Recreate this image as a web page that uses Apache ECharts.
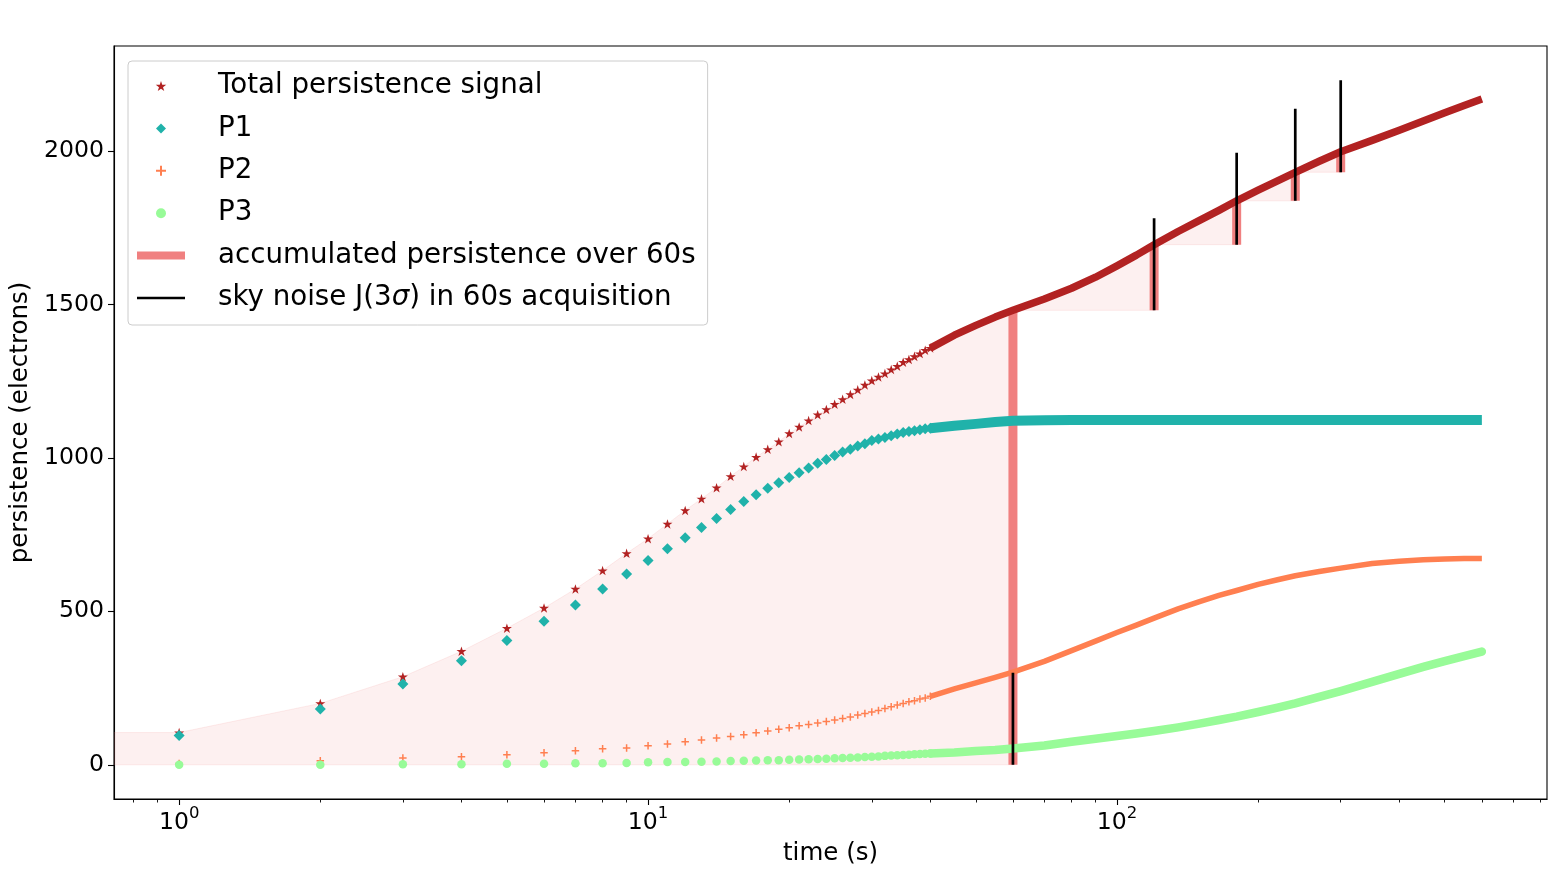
<!DOCTYPE html>
<html><head><meta charset="utf-8">
<script src="https://cdn.jsdelivr.net/npm/echarts@6/dist/echarts.min.js"></script>
<style>html,body{margin:0;padding:0;background:#fff}#c{width:1563px;height:882px}</style>
</head><body><div id="c"></div>
<script>
// ---------------- data ----------------
const times = [1,2,3,4,5,6,7,8,9,10,11,12,13,14,15,16,17,18,19,20,
  21,22,23,24,25,26,27,28,29,30,31,32,33,34,35,36,37,38,39,40,
  45,50,55,60,70,80,90,100,110,120,135,150,165,180,200,220,240,270,300,350,400,450,500,550,600];
const totalSignal = [105,200,287,370,445,511,573,633,689,737,785,829,867,903,940,972,1003,1028,1053,1080,
  1101,1122,1141,1158,1175,1191,1207,1222,1238,1252,1264,1275,1288,1299,1312,1321,1331,1340,1351,1358,
  1400,1432,1459,1481,1518,1553,1589,1626,1661,1695,1738,1774,1807,1838,1873,1903,1931,1967,1998,2035,2068,2098,2125,2149,2170];
const p1 = [95,182,263,339,405,468,521,573,622,666,704,740,773,803,832,858,880,901,919,936,
  952,967,983,995,1008,1019,1028,1039,1046,1057,1062,1067,1072,1078,1083,1086,1089,1092,1095,1097,
  1105,1111,1117,1121,1123,1124,1124,1124,1124,1124,1124,1124,1124,1124,1124,1124,1124,1124,1124,1124,1124,1124,1124,1124,1124];
const p2 = [4,13,22,26,33,39,46,52,55,62,68,75,81,87,92,98,104,110,116,121,
  127,131,136,141,146,151,156,162,167,172,177,183,189,195,200,205,209,214,218,223,
  247,267,285,302,337,372,403,431,455,478,508,532,552,568,588,603,616,630,641,656,663,668,671,672,672];
const p3 = [0,0,2,2,3,3,5,5,6,8,9,9,10,11,12,13,14,15,15,16,
  17,18,19,20,21,22,23,24,25,26,27,29,30,31,32,33,34,35,36,37,
  40,45,48,53,63,75,85,94,102,110,122,134,146,157,172,186,200,221,240,270,296,319,338,354,369];
const stepTimes = [60,120,180,240,300];
const skyNoise3Sigma = [300,300,300,300,300];
const xMajorTicks = [1,10,100];
const yTickValues = [0,500,1000,1500,2000];
const bandStart = 40; // markers merge into a continuous band beyond this time

const names = {
  total:'Total persistence signal', p1:'P1', p2:'P2', p3:'P3',
  acc:'accumulated persistence over 60s', sky:'sky noise J(3σ) in 60s acquisition'
};
const colors = {total:'#b22222', p1:'#20b2aa', p2:'#ff7f50', p3:'#98fb98', acc:'#f08080', sky:'#000000'};
const FONT = 'DejaVu Sans';
const FS = 23.6;      // tick labels
const FS_NAME = 24.5; // axis titles
const FS_LEG = 27.7;  // legend

// ---------------- helpers ----------------
const lx = times.map(t => Math.log10(t));
const totalAt = t => totalSignal[times.indexOf(t)];
const xLo = lx[0], xHi = lx[lx.length-1], xPad = 0.05*(xHi-xLo);
const xMin = xLo - xPad, xMax = xHi + xPad;
const bases = stepTimes.map((t,k) => k===0 ? 0 : totalAt(stepTimes[k-1]));
const noiseTops = bases.map((b,k) => b + skyNoise3Sigma[k]);
const allY = [].concat(totalSignal, p1, p2, p3, noiseTops, [0]);
const yLo = Math.min(...allY), yHi = Math.max(...allY), yPad = 0.05*(yHi-yLo);
const yMin = yLo - yPad, yMax = yHi + yPad;

const minorTicks = [];
for (let d=-1; d<=3; d++) for (let k=2;k<=9;k++){ const v=Math.log10(k*Math.pow(10,d)); if(v>xMin && v<xMax) minorTicks.push(v); }
const majorTicks = xMajorTicks.map(t=>Math.log10(t));

function starPath(){
  const pts=[];
  for(let i=0;i<10;i++){ const r=i%2===0?50:19.1; const a=-Math.PI/2+i*Math.PI/5;
    pts.push((50+r*Math.cos(a)).toFixed(2)+','+(50+r*Math.sin(a)).toFixed(2)); }
  return 'path://M'+pts.join(' L')+' Z';
}
const STAR = starPath();
const PLUS = 'path://M4,0 L6,0 L6,4 L10,4 L10,6 L6,6 L6,10 L4,10 L4,6 L0,6 L0,4 L4,4 Z';
const DIAMOND = 'path://M5,0 L10,5 L5,10 L0,5 Z';
const BAR_ICON = 'path://M0,0 L48,0 L48,8 L0,8 Z';
const LINE_ICON = 'path://M0,0 L48,0 L48,2.7 L0,2.7 Z';

const pts = vals => times.map((t,i)=>[lx[i], vals[i]]);
const sparse = vals => pts(vals).filter((p,i)=>times[i]<=bandStart);
const dense = vals => pts(vals).filter((p,i)=>times[i]>=bandStart);

const barData = [], noiseData = [];
stepTimes.forEach((t,k)=>{
  const x = Math.log10(t);
  barData.push([x,bases[k]],[x,totalAt(t)],[x,'-']);
  noiseData.push([x,bases[k]],[x,noiseTops[k]],[x,'-']);
});

function scatter(name, vals, symbol, size, color){
  return {type:'scatter', name, data:sparse(vals), symbol, symbolSize:size, symbolKeepAspect:true,
    itemStyle:{color, opacity:1}, z:4, silent:true};
}
function band(key, vals, width, cap){
  return {type:'line', name:'_band_'+key, data:dense(vals), symbol:'none', showSymbol:false,
    lineStyle:{color:colors[key], width, cap:cap||'butt', join:'round'}, z:3, silent:true};
}

const chart = echarts.init(document.getElementById('c'), null, {renderer:'canvas'});
chart.setOption({
  animation:false,
  backgroundColor:'#fff',
  grid:{left:114, top:46, right:16, bottom:83, show:true, borderColor:'#000', borderWidth:1.1,
        backgroundColor:'transparent', containLabel:false, outerBoundsMode:'none'},
  legend:{
    orient:'vertical', left:128, top:61, padding:[11,12,13,9], itemGap:14.4, itemWidth:48, itemHeight:10,
    symbolKeepAspect:true, selectedMode:false,
    backgroundColor:'rgba(255,255,255,0.8)', borderColor:'#cccccc', borderWidth:1, borderRadius:4,
    textStyle:{fontFamily:FONT, fontSize:FS_LEG, color:'#000', lineHeight:27.2, padding:[0,0,0,28],
      rich:{i:{fontFamily:FONT, fontSize:FS_LEG, fontStyle:'italic', color:'#000', lineHeight:27.2}}},
    formatter: n => n===names.sky ? 'sky noise J(3{i|σ}) in 60s acquisition' : n,
    data:[
      {name:names.total, icon:STAR},
      {name:names.p1, icon:DIAMOND},
      {name:names.p2, icon:PLUS},
      {name:names.p3, icon:'circle'},
      {name:names.acc, icon:BAR_ICON, itemStyle:{color:colors.acc}},
      {name:names.sky, icon:LINE_ICON, itemStyle:{color:colors.sky}}
    ]
  },
  xAxis:[{
    type:'value', min:xMin, max:xMax, gridIndex:0, position:'bottom',
    name:'time (s)', nameLocation:'middle', nameGap:42,
    nameTextStyle:{fontFamily:FONT, fontSize:FS_NAME, color:'#000'},
    axisLine:{show:true, onZero:false, lineStyle:{color:'#000', width:1.1}},
    axisTick:{show:true, customValues:majorTicks, length:6, lineStyle:{color:'#000', width:1.1}},
    axisLabel:{show:true, customValues:majorTicks, margin:6,
      formatter: v => '{b|10}{s|'+Math.round(v)+'}',
      rich:{b:{fontFamily:FONT, fontSize:FS, color:'#000', lineHeight:30, verticalAlign:'bottom'},
            s:{fontFamily:FONT, fontSize:16.5, color:'#000', lineHeight:16.5, verticalAlign:'top'}}},
    splitLine:{show:false}
  },{
    type:'value', min:xMin, max:xMax, gridIndex:0, position:'bottom',
    axisLine:{show:false, onZero:false},
    axisTick:{show:true, customValues:minorTicks, length:3.5, lineStyle:{color:'#000', width:0.9}},
    axisLabel:{show:false}, splitLine:{show:false}
  }],
  yAxis:{
    type:'value', min:yMin, max:yMax,
    name:'persistence (electrons)', nameLocation:'middle', nameGap:68,
    nameTextStyle:{fontFamily:FONT, fontSize:FS_NAME, color:'#000'},
    axisLine:{show:true, onZero:false, lineStyle:{color:'#000', width:1.1}},
    axisTick:{show:true, customValues:yTickValues, length:6, lineStyle:{color:'#000', width:1.1}},
    axisLabel:{show:true, customValues:yTickValues, margin:10, fontFamily:FONT, fontSize:FS, color:'#000',
      formatter: v => String(Math.round(v))},
    splitLine:{show:false}
  },
  series:[
    {type:'custom', name:'_fill', silent:true, z:1, clip:true,
     data: stepTimes.map((t,k)=>[Math.log10(t), bases[k]]),
     renderItem:(params, api)=>{
       const k = params.dataIndex, tEnd = stepTimes[k], tStart = k===0 ? null : stepTimes[k-1];
       const poly = [];
       if (k===0){ poly.push(api.coord([xMin, 0])); poly.push(api.coord([xMin, totalSignal[0]])); }
       else poly.push(api.coord([Math.log10(tStart), bases[k]]));
       times.forEach((t,i)=>{ if ((k===0 || t>=tStart) && t<=tEnd) poly.push(api.coord([lx[i], totalSignal[i]])); });
       poly.push(api.coord([Math.log10(tEnd), bases[k]]));
       return {type:'polygon', shape:{points:poly},
         style:{fill:'rgba(240,128,128,0.12)', stroke:'rgba(240,128,128,0.14)', lineWidth:1}};
     }},
    {type:'line', name:names.acc, data:barData, connectNulls:false, symbol:'none', showSymbol:false, z:2, silent:true,
     itemStyle:{color:colors.acc}, lineStyle:{color:colors.acc, width:9, cap:'butt'}},
    band('total', totalSignal, 7.5),
    band('p1', p1, 10),
    band('p2', p2, 5.5),
    band('p3', p3, 8.5, 'round'),
    scatter(names.total, totalSignal, STAR, 10, colors.total),
    scatter(names.p1, p1, DIAMOND, 11, colors.p1),
    scatter(names.p2, p2, PLUS, 7.5, colors.p2),
    scatter(names.p3, p3, 'circle', 8.5, colors.p3),
    {type:'line', name:names.sky, data:noiseData, connectNulls:false, symbol:'none', showSymbol:false, z:5, silent:true,
     itemStyle:{color:colors.sky}, lineStyle:{color:colors.sky, width:2.7, cap:'butt'}}
  ]
});
</script></body></html>
